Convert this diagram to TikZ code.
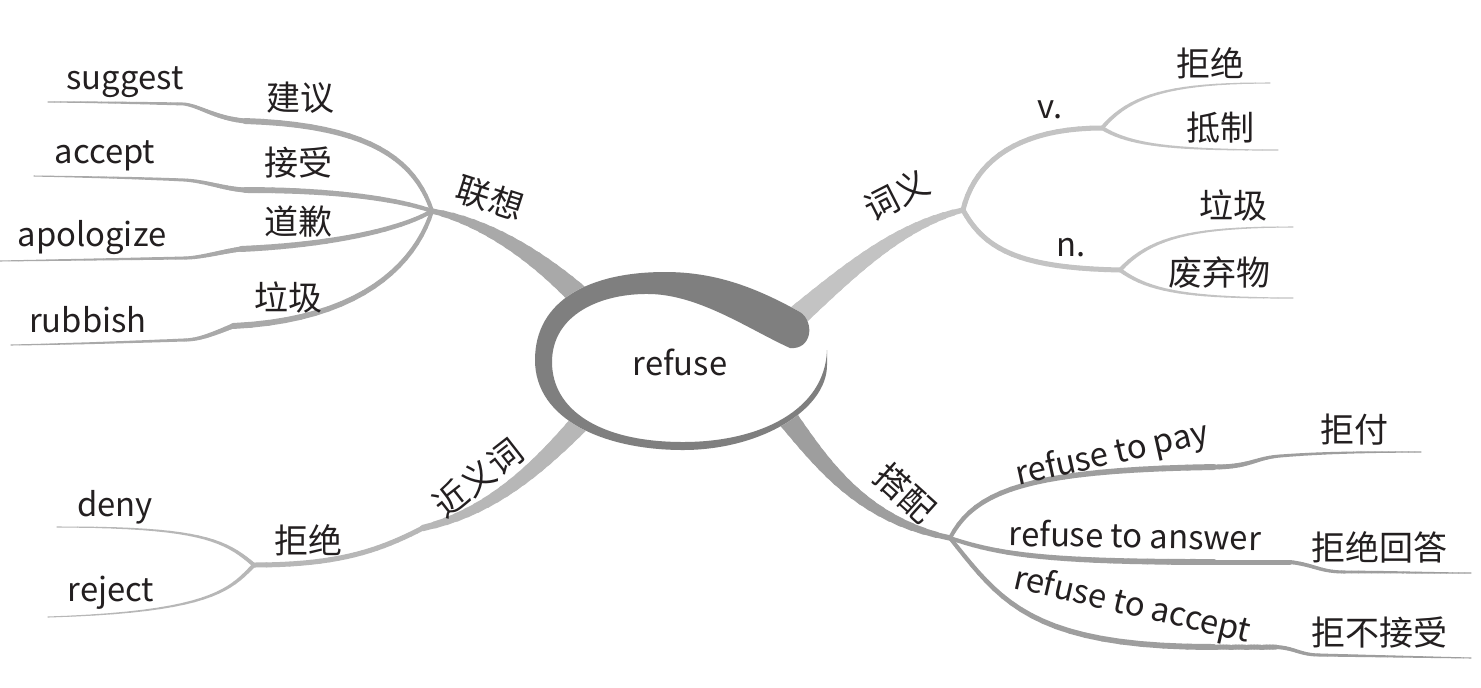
\documentclass[tikz,border=0pt]{standalone}
\usepackage{fontspec}
\setmainfont{Noto Sans CJK SC}
\definecolor{ringc}{HTML}{7F7F7F}
\definecolor{lxc}{HTML}{A9A9A9}
\definecolor{cyc}{HTML}{C3C3C3}
\definecolor{jyc}{HTML}{B7B7B7}
\definecolor{dpc}{HTML}{9E9E9E}
\definecolor{txt}{HTML}{231F20}
% tapered curve: #1 start name, #2 #3 controls, #4 end name, #5 #6 widths (pt), #7 colour
\newcommand\tapr[7]{%
  \path (#1) .. controls #2 and #3 .. (#4)
    \foreach \k [evaluate=\k as \pp using \k/20] in {0,...,20}{coordinate[pos=\pp] (tq\k)};
  \foreach \k in {1,...,20}{%
    \pgfmathtruncatemacro\km{\k-1}%
    \pgfmathsetmacro\wd{#5+(#6-#5)*(\k-0.5)/20}%
    \draw[draw=#7, line width=\wd pt, line cap=round] (tq\km) -- (tq\k);
  }%
}
\begin{document}
\begin{tikzpicture}[x=0.5pt,y=-0.5pt,
  lbl/.style={font=\fontsize{17}{20}\selectfont, text=txt, inner sep=0pt},
  lat/.style={font=\fontsize{16.4}{20}\selectfont, text=txt, inner sep=0pt}]
\useasboundingbox (0,0) rectangle (1481,687);
\fill[white] (0,0) rectangle (1481,687);

% ---------- 联想 ----------
\coordinate (c1) at (598,315);
\coordinate (h1) at (432,211);
\coordinate (k1a) at (245,121); \coordinate (m1a) at (184,104); \coordinate (e1a) at (48,102);
\coordinate (k1b) at (245,190); \coordinate (m1b) at (184,180); \coordinate (e1b) at (34,176);
\coordinate (k1c) at (241,249); \coordinate (m1c) at (184,258); \coordinate (e1c) at (0,261);
\coordinate (k1d) at (233,326); \coordinate (m1d) at (184,340); \coordinate (e1d) at (11,345);
\tapr{c1}{(560,275)}{(500,225)}{h1}{12.5}{2.5}{lxc}
\tapr{h1}{(415,160)}{(370,125)}{k1a}{2}{3}{lxc}
\tapr{k1a}{(215,118)}{(200,106)}{m1a}{2.5}{1.5}{lxc}
\tapr{m1a}{(140,103)}{(90,102)}{e1a}{1.5}{0.5}{lxc}
\tapr{h1}{(400,200)}{(340,190)}{k1b}{2}{3}{lxc}
\tapr{k1b}{(225,189)}{(205,181)}{m1b}{2.5}{1.5}{lxc}
\tapr{m1b}{(140,178)}{(90,177)}{e1b}{1.5}{0.5}{lxc}
\tapr{h1}{(400,230)}{(330,245)}{k1c}{2}{3}{lxc}
\tapr{k1c}{(220,252)}{(200,258)}{m1c}{2.5}{1.5}{lxc}
\tapr{m1c}{(130,259)}{(60,260)}{e1c}{1.5}{0.5}{lxc}
\tapr{h1}{(415,265)}{(360,320)}{k1d}{2}{3}{lxc}
\tapr{k1d}{(215,333)}{(200,340)}{m1d}{2.5}{1.5}{lxc}
\tapr{m1d}{(130,342)}{(70,344)}{e1d}{1.5}{0.5}{lxc}

% ---------- 词义 ----------
\coordinate (c2) at (795,318);
\coordinate (h2) at (963,210);
\coordinate (hv) at (1102,128);
\coordinate (hn) at (1120,270);
\coordinate (e2a) at (1270,83);
\coordinate (e2b) at (1278,150);
\coordinate (e2c) at (1293,227);
\coordinate (e2d) at (1293,298);
\tapr{c2}{(850,270)}{(900,225)}{h2}{11}{2.5}{cyc}
\tapr{h2}{(975,160)}{(1020,128)}{hv}{2.5}{2.5}{cyc}
\tapr{h2}{(985,250)}{(1020,268)}{hn}{2.5}{2.5}{cyc}
\tapr{hv}{(1130,95)}{(1170,83)}{e2a}{2}{0.5}{cyc}
\tapr{hv}{(1130,145)}{(1170,150)}{e2b}{2}{0.5}{cyc}
\tapr{hn}{(1150,238)}{(1190,227)}{e2c}{2}{0.5}{cyc}
\tapr{hn}{(1150,292)}{(1190,298)}{e2d}{2}{0.5}{cyc}

% ---------- 近义词 ----------
\coordinate (c3) at (592,410);
\coordinate (k3) at (423,528);
\coordinate (h3) at (254,565);
\coordinate (e3a) at (57,527);
\coordinate (e3b) at (48,617);
\tapr{c3}{(550,455)}{(500,510)}{k3}{10.5}{3}{jyc}
\tapr{k3}{(380,550)}{(340,565)}{h3}{2.5}{2.5}{jyc}
\tapr{h3}{(225,540)}{(200,527)}{e3a}{2}{0.5}{jyc}
\tapr{h3}{(230,590)}{(210,612)}{e3b}{2}{0.5}{jyc}

% ---------- 搭配 ----------
\coordinate (c4) at (785,415);
\coordinate (h4) at (950,538);
\coordinate (k4a) at (1214,467); \coordinate (m4a) at (1280,456); \coordinate (e4a) at (1421,452);
\coordinate (k4b) at (1214,562); \coordinate (j4b) at (1290,562); \coordinate (m4b) at (1345,572); \coordinate (e4b) at (1471,573);
\coordinate (k4c) at (1214,647); \coordinate (j4c) at (1276,647); \coordinate (m4c) at (1320,655); \coordinate (e4c) at (1471,658);
\tapr{c4}{(820,460)}{(860,520)}{h4}{10.5}{2.5}{dpc}
\tapr{h4}{(975,490)}{(1030,470)}{k4a}{2}{3}{dpc}
\tapr{k4a}{(1250,467)}{(1255,458)}{m4a}{2.5}{1.5}{dpc}
\tapr{m4a}{(1330,452)}{(1380,452)}{e4a}{1.5}{0.5}{dpc}
\tapr{h4}{(1000,555)}{(1050,562)}{k4b}{2}{3}{dpc}
\tapr{k4b}{(1240,562)}{(1265,562)}{j4b}{2.5}{2.5}{dpc}
\tapr{j4b}{(1315,565)}{(1320,572)}{m4b}{2}{1.5}{dpc}
\tapr{m4b}{(1390,572)}{(1430,573)}{e4b}{1.5}{0.5}{dpc}
\tapr{h4}{(1000,600)}{(1030,647)}{k4c}{2}{3}{dpc}
\tapr{k4c}{(1235,647)}{(1255,647)}{j4c}{2.5}{2.5}{dpc}
\tapr{j4c}{(1295,648)}{(1300,655)}{m4c}{2}{1.5}{dpc}
\tapr{m4c}{(1370,656)}{(1420,657)}{e4c}{1.5}{0.5}{dpc}

% ---------- central ring ----------
\fill[white] (800,312) .. controls (755,287) and (715,272) .. (665,272)
  .. controls (590,272) and (535,300) .. (535,360)
  .. controls (535,420) and (605,450) .. (683,450)
  .. controls (760,450) and (827,410) .. (827,365) -- (827,345) -- cycle;
\fill[ringc] (800,312) .. controls (755,287) and (715,272) .. (665,272)
  .. controls (590,272) and (535,300) .. (535,360)
  .. controls (535,420) and (605,450) .. (683,450)
  .. controls (760,450) and (827,410) .. (827,365)
  -- (827,350)
  .. controls (825,410) and (760,442) .. (683,442)
  .. controls (600,442) and (552,410) .. (552,362)
  .. controls (552,315) and (600,293) .. (650,294)
  .. controls (700,295) and (750,330) .. (790,348)
  .. controls (812,350) and (815,322) .. (800,312) -- cycle;

% ---------- labels ----------
\node[lat] (tc) at (680,362) {refuse};
\node[lbl, rotate=-18] (t1) at (490,198) {联想};
\node[lbl] (t1a) at (300,98) {建议};
\node[lbl] (t1b) at (298,163) {接受};
\node[lbl] (t1c) at (298,222) {道歉};
\node[lbl] (t1d) at (288,297) {垃圾};
\node[lat] (s1a) at (125,82) {suggest};
\node[lat] (s1b) at (105,156) {accept};
\node[lat] (s1c) at (92,238) {apologize};
\node[lat] (s1d) at (88,320) {rubbish};

\node[lbl, rotate=27] (t2) at (897,195) {词义};
\node[lat] (tv) at (1050,110) {v.};
\node[lat] (tn) at (1071,248) {n.};
\node[lbl] (t2a) at (1210,63) {拒绝};
\node[lbl] (t2b) at (1220,128) {抵制};
\node[lbl] (t2c) at (1233,205) {垃圾};
\node[lbl] (t2d) at (1219,273) {废弃物};

\node[lbl, rotate=38] (t3) at (478,478) {近义词};
\node[lbl] (t3k) at (308,540) {拒绝};
\node[lat] (s3a) at (115,507) {deny};
\node[lat] (s3b) at (111,593) {reject};

\node[lbl, rotate=-42] (t4) at (905,493) {搭配};
\node[lat, rotate=12.5] (s4a) at (1112,455) {refuse to pay};
\node[lat, rotate=-1] (s4b) at (1135,535) {refuse to answer};
\node[lat, rotate=-13] (s4c) at (1132,606) {refuse to accept};
\node[lbl] (t4a) at (1354,430) {拒付};
\node[lbl] (t4b) at (1379,547) {拒绝回答};
\node[lbl] (t4c) at (1379,633) {拒不接受};
\end{tikzpicture}
\end{document}
